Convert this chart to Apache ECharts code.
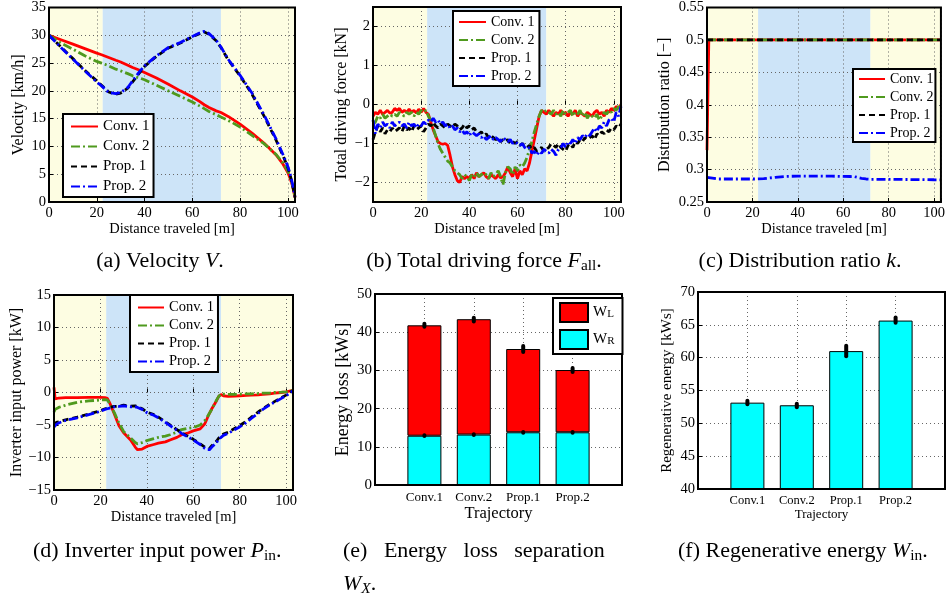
<!DOCTYPE html>
<html>
<head>
<meta charset="utf-8">
<script src="https://cdn.jsdelivr.net/npm/echarts@6/dist/echarts.min.js"></script>
<style>
  html, body { margin: 0; padding: 0; background: #fff; }
  #main { width: 948px; height: 599px; }
</style>
</head>
<body>
<div id="main"></div>
<script>
// ---- data ----
var seriesNames = ['Conv. 1', 'Conv. 2', 'Prop. 1', 'Prop. 2'];
var bandEdges = [0, 22.5, 72, 103];

// (a) velocity [km/h]
var distA = [0,5,10,15,20,22,25,28,30,33,35,38,40,45,50,55,60,63,65,67,70,72,75,80,85,90,95,98,100,101,102,103];
var conv1A = [30,29.2,28.4,27.6,26.8,26.5,26.0,25.5,25.2,24.6,24.2,23.7,23.3,22.3,21.2,20.0,18.9,18.1,17.5,17.0,16.4,16.1,15.4,14.0,12.4,10.6,8.5,6.8,5.3,4.2,2.8,0.8];
var conv2A = [30,28.6,27.5,26.3,25.3,25.0,24.5,23.9,23.6,23.1,22.7,22.3,22.0,21.0,20.0,19.0,18.0,17.3,16.8,16.3,15.7,15.3,14.7,13.5,12.0,10.5,8.6,7.0,5.6,4.5,3.0,1.0];
var prop1A = [30,27.9,25.8,23.7,21.8,21.0,19.8,19.4,19.6,20.5,21.6,23.3,24.4,26.2,27.7,28.6,29.7,30.3,30.6,30.2,29.0,27.8,25.6,22.7,19.4,15.5,11.2,8.3,6.2,4.8,3.0,0.8];
var prop2A = [30,27.8,25.7,23.6,21.6,20.9,19.7,19.5,19.7,20.6,21.8,23.5,24.5,26.3,27.8,28.7,29.8,30.4,30.7,30.3,29.1,27.9,25.7,22.8,19.6,15.7,11.4,8.5,6.4,5.0,3.2,1.0];

// (b) total driving force [kN]
var distB = [0,1,2,3,4,5,6,7,8,9,10,11,12,13,14,15,16,17,18,19,20,21,22,23,24,25,26,27,28,29,30,31,32,33,34,35,36,37,38,39,40,41,42,43,44,45,46,47,48,49,50,51,52,53,54,55,56,57,58,59,60,61,62,63,64,65,66,67,68,69,70,71,72,73,74,75,76,77,78,79,80,81,82,83,84,85,86,87,88,89,90,91,92,93,94,95,96,97,98,99,100,101,102,103];
var conv1B = [-0.3,-0.2,-0.25,-0.15,-0.25,-0.2,-0.15,-0.22,-0.2,-0.1,
  -0.15,-0.1,-0.2,-0.15,-0.2,-0.12,-0.2,-0.15,-0.22,-0.12,
  -0.2,-0.1,-0.2,-0.25,-0.45,-0.65,-0.8,-0.95,-1.0,-1.02,
  -1.0,-1.05,-1.3,-1.6,-1.8,-1.95,-2.0,-1.85,-1.9,-1.85,
  -1.9,-1.8,-1.9,-1.75,-1.85,-1.8,-1.75,-1.85,-1.9,-1.8,
  -1.85,-1.9,-1.8,-1.88,-1.85,-1.75,-1.6,-1.75,-1.85,-1.65,
  -1.9,-1.7,-1.8,-1.65,-1.7,-1.5,-1.2,-0.9,-0.6,-0.3,
  -0.15,-0.2,-0.25,-0.15,-0.22,-0.3,-0.2,-0.25,-0.15,-0.25,
  -0.2,-0.3,-0.2,-0.25,-0.15,-0.3,-0.2,-0.25,-0.3,-0.2,
  -0.25,-0.3,-0.2,-0.15,-0.25,-0.2,-0.3,-0.15,-0.2,-0.1,
  -0.15,-0.05,-0.1,0.0];
var conv2B = [-0.5,-0.45,-0.3,-0.35,-0.25,-0.35,-0.3,-0.25,-0.3,-0.25,
  -0.3,-0.2,-0.25,-0.3,-0.2,-0.25,-0.2,-0.3,-0.2,-0.25,
  -0.15,-0.2,-0.15,-0.3,-0.4,-0.6,-0.8,-1.0,-1.15,-1.25,
  -1.35,-1.45,-1.5,-1.6,-1.7,-1.75,-1.8,-1.9,-1.8,-1.85,
  -1.95,-1.8,-1.85,-1.75,-1.85,-1.8,-1.75,-1.8,-1.9,-1.75,
  -1.85,-1.8,-1.7,-1.85,-2.05,-1.75,-1.6,-1.65,-1.8,-1.6,
  -1.7,-1.55,-1.6,-1.5,-1.35,-1.15,-0.95,-0.7,-0.5,-0.3,
  -0.15,-0.2,-0.15,-0.2,-0.25,-0.15,-0.25,-0.2,-0.3,-0.15,
  -0.25,-0.2,-0.15,-0.3,-0.2,-0.25,-0.15,-0.3,-0.2,-0.35,
  -0.25,-0.3,-0.35,-0.25,-0.4,-0.3,-0.2,-0.25,-0.15,-0.2,
  -0.1,-0.15,-0.05,-0.1];
var prop1B = [-0.9,-0.7,-0.55,-0.7,-0.6,-0.75,-0.65,-0.7,-0.6,-0.7,
  -0.65,-0.6,-0.7,-0.55,-0.65,-0.6,-0.7,-0.55,-0.65,-0.6,
  -0.55,-0.7,-0.6,-0.5,-0.55,-0.45,-0.55,-0.6,-0.5,-0.55,
  -0.6,-0.5,-0.55,-0.6,-0.5,-0.55,-0.65,-0.6,-0.5,-0.6,
  -0.55,-0.65,-0.6,-0.7,-0.75,-0.7,-0.8,-0.75,-0.85,-0.8,
  -0.85,-0.9,-0.85,-0.95,-0.9,-0.95,-0.9,-1.0,-0.95,-1.0,
  -0.95,-1.05,-1.0,-1.05,-1.1,-1.05,-1.15,-1.1,-1.2,-1.15,
  -1.1,-1.2,-1.15,-1.1,-1.0,-1.05,-1.1,-1.0,-1.1,-1.15,
  -1.2,-1.05,-1.0,-1.1,-0.95,-1.0,-0.9,-0.95,-0.85,-0.9,
  -0.85,-0.8,-0.9,-0.75,-0.8,-0.7,-0.75,-0.65,-0.7,-0.6,
  -0.65,-0.55,-0.6,-0.5];
var prop2B = [-0.4,-0.75,-0.5,-0.6,-0.45,-0.55,-0.5,-0.6,-0.45,-0.55,
  -0.5,-0.45,-0.55,-0.5,-0.6,-0.45,-0.55,-0.5,-0.6,-0.5,
  -0.55,-0.45,-0.5,-0.4,-0.45,-0.35,-0.45,-0.4,-0.5,-0.45,
  -0.55,-0.5,-0.6,-0.55,-0.65,-0.6,-0.7,-0.65,-0.75,-0.7,
  -0.8,-0.7,-0.75,-0.8,-0.75,-0.85,-0.8,-0.9,-0.85,-0.8,
  -0.9,-0.85,-0.9,-0.95,-0.85,-0.9,-0.95,-0.9,-1.0,-0.95,
  -1.0,-1.05,-1.0,-1.1,-1.15,-1.1,-1.25,-1.2,-1.3,-1.2,
  -1.25,-1.15,-1.2,-1.25,-1.15,-1.2,-1.3,-1.15,-1.1,-1.0,
  -1.1,-0.95,-1.0,-0.9,-1.0,-0.85,-0.9,-0.8,-0.85,-0.75,
  -0.8,-0.7,-0.6,-0.7,-0.55,-0.6,-0.45,-0.55,-0.4,-0.35,
  -0.45,-0.2,-0.3,-0.05];

// (c) distribution ratio
var distC = [0,0.8,5,10,15,20,22,25,30,35,40,45,50,55,60,63,65,68,70,72,75,80,85,90,95,100,103];
var conv1C = [0.33,0.5,0.5,0.5,0.5,0.5,0.5,0.5,0.5,0.5,0.5,0.5,0.5,0.5,0.5,0.5,0.5,0.5,0.5,0.5,0.5,0.5,0.5,0.5,0.5,0.5,0.5];
var conv2C = [0.5,0.5,0.5,0.5,0.5,0.5,0.5,0.5,0.5,0.5,0.5,0.5,0.5,0.5,0.5,0.5,0.5,0.5,0.5,0.5,0.5,0.5,0.5,0.5,0.5,0.5,0.5];
var prop1C = [0.5,0.5,0.5,0.5,0.5,0.5,0.5,0.5,0.5,0.5,0.5,0.5,0.5,0.5,0.5,0.5,0.5,0.5,0.5,0.5,0.5,0.5,0.5,0.5,0.5,0.5,0.5];
var prop2C = [0.288,0.286,0.2855,0.2855,0.2855,0.2855,0.2855,0.286,0.288,0.2895,0.29,0.29,0.29,0.2898,0.2895,0.2893,0.289,0.2865,0.2855,0.285,0.285,0.285,0.2848,0.2846,0.2845,0.2843,0.2842];

// (d) inverter input power [kW]
var distD = [0,0.5,1,2,5,10,15,20,22,23,24,26,28,30,33,35,36,38,40,43,45,48,50,53,55,58,60,63,65,66,67,68,70,71,72,73,75,78,80,83,85,88,90,93,95,98,100,102,103];
var conv1D = [0.8,-1.0,-1.0,-0.85,-0.8,-0.8,-0.75,-0.75,-0.8,-0.9,-1.6,-3.3,-5.1,-6.2,-7.3,-8.4,-8.8,-8.7,-8.3,-8.0,-7.8,-7.6,-7.3,-6.9,-6.5,-6.2,-5.9,-5.6,-4.8,-4.0,-3.2,-2.5,-1.3,-0.6,-0.3,-0.5,-0.6,-0.55,-0.5,-0.45,-0.4,-0.35,-0.3,-0.2,-0.1,0.0,0.1,0.25,0.3];
var conv2D = [-3.0,-2.6,-2.5,-2.3,-1.95,-1.5,-1.3,-1.15,-1.1,-1.15,-1.7,-3.1,-4.7,-6.0,-7.0,-7.7,-7.9,-7.7,-7.4,-7.1,-6.9,-6.7,-6.5,-6.1,-5.7,-5.5,-5.4,-5.0,-4.3,-3.8,-3.2,-2.6,-1.2,-0.6,-0.2,-0.25,-0.3,-0.3,-0.25,-0.2,-0.2,-0.15,-0.1,-0.1,0.0,0.05,0.1,0.2,0.3];
var prop1D = [-5.0,-4.8,-4.6,-4.5,-4.2,-3.8,-3.3,-2.8,-2.5,-2.4,-2.3,-2.15,-2.1,-1.95,-2.1,-2.05,-2.2,-2.5,-3.0,-3.4,-3.8,-4.5,-5.0,-5.7,-6.2,-6.8,-7.2,-7.9,-8.4,-8.6,-8.6,-8.2,-7.5,-7.0,-6.7,-6.4,-6.1,-5.5,-5.1,-4.4,-3.8,-3.0,-2.5,-1.8,-1.4,-0.8,-0.4,0.1,0.3];
var prop2D = [-5.3,-5.0,-4.9,-4.7,-4.3,-3.9,-3.4,-2.9,-2.6,-2.5,-2.4,-2.2,-2.15,-2.05,-2.2,-2.2,-2.3,-2.6,-3.1,-3.5,-3.9,-4.6,-5.1,-5.8,-6.3,-6.9,-7.3,-8.0,-8.6,-8.8,-8.8,-8.4,-7.7,-7.2,-6.9,-6.6,-6.3,-5.7,-5.3,-4.6,-4.0,-3.2,-2.6,-1.9,-1.5,-0.9,-0.5,0.0,0.25];

// (e) energy loss separation [kWs]
var trajectories = ['Conv.1', 'Conv.2', 'Prop.1', 'Prop.2'];
var barSlots = [''].concat(trajectories, ['']);
var barPos = [1, 2, 3, 4];
var wR = [12.9, 13.2, 13.8, 13.8];
var wL = [28.9, 30.2, 21.8, 16.3];
var wTotalLo = [41.4, 42.8, 34.8, 29.6];
var wTotalHi = [42.2, 43.8, 36.4, 30.6];
var wRLo = [12.8, 13.1, 13.7, 13.7];
var wRHi = [13.0, 13.3, 13.9, 13.9];

// (f) regenerative energy [kWs]
var wIn = [53.15, 52.75, 61.0, 65.65];
var wInLo = [52.9, 52.45, 60.2, 65.3];
var wInHi = [53.45, 53.0, 61.8, 66.1];

// ---- styles ----
var SERIF = '"Liberation Serif", "Times New Roman", serif';
var lineLook = {
    'Conv. 1': {color: '#ff0000', type: 'solid'},
    'Conv. 2': {color: '#4f9a1e', type: [9, 3, 2, 3]},
    'Prop. 1': {color: '#000000', type: [6, 4]},
    'Prop. 2': {color: '#0000ff', type: [9, 3, 2, 3]}
};
var bandColors = ['#fdfde2', '#cde4f8', '#fdfde2'];

var myChart = echarts.init(document.getElementById('main'), null, {renderer: 'canvas'});

function minus(v) {
    return v < 0 ? '\u2212' + (-v) : String(v);
}

function lineSeries(g, xs, ys, name) {
    var look = lineLook[name];
    return {
        type: 'line', name: name, xAxisIndex: g, yAxisIndex: g,
        data: xs.map(function (x, i) { return [x, ys[i]]; }),
        symbol: 'none', z: 2, silent: true,
        lineStyle: {color: look.color, width: 2.8, type: look.type},
        itemStyle: {color: look.color}
    };
}

function bandSeries(g) {
    var areas = [];
    for (var i = 0; i < bandEdges.length - 1; i++) {
        areas.push([{xAxis: bandEdges[i], itemStyle: {color: bandColors[i]}}, {xAxis: bandEdges[i + 1]}]);
    }
    return {type: 'line', xAxisIndex: g, yAxisIndex: g, data: [], silent: true,
        markArea: {silent: true, z: 0.5, label: {show: false}, data: areas}};
}

function errSeries(g, lo, hi) {
    return {
        type: 'custom', xAxisIndex: g, yAxisIndex: g, z: 3, silent: true,
        data: barPos.map(function (x, i) { return [x, lo[i], hi[i]]; }),
        encode: {x: 0, y: [1, 2]},
        renderItem: function (params, api) {
            var a = api.coord([api.value(0), api.value(1)]);
            var b = api.coord([api.value(0), api.value(2)]);
            return {type: 'line', shape: {x1: a[0], y1: a[1], x2: b[0], y2: b[1]},
                style: {stroke: '#000', lineWidth: 4, lineCap: 'round'}};
        }
    };
}

var grid0 = {show: true, z: 3, borderColor: '#000', borderWidth: 2, backgroundColor: 'transparent'};
function mkGrid(l, t, w, h) {
    return Object.assign({left: l, top: t, width: w, height: h}, grid0);
}

var dotted = {show: true, lineStyle: {color: '#666', type: [1, 3], width: 1}};

function axisBase(g, fs, name, gap, nfs) {
    return {
        gridIndex: g, type: 'value', z: 1,
        axisLine: {show: false},
        axisTick: {show: true, inside: true, length: 4, lineStyle: {color: '#000'}},
        splitLine: dotted,
        name: name, nameLocation: 'middle', nameGap: gap,
        nameTextStyle: {fontFamily: SERIF, fontSize: nfs, color: '#000'},
        axisLabel: {color: '#000', fontFamily: SERIF, fontSize: fs}
    };
}

function distAxis(g) {
    var ax = axisBase(g, 14.5, 'Distance traveled [m]', 20, 14.5);
    ax.min = 0; ax.max = 103; ax.interval = 20;
    ax.axisLabel.margin = 4;
    ax.axisLabel.formatter = function (v) { return v % 20 === 0 ? String(v) : ''; };
    return ax;
}

function catAxis(g, fs, nfs, gap, margin) {
    var ax = axisBase(g, fs, 'Trajectory', gap, nfs);
    ax.type = 'category';
    ax.data = barSlots;
    ax.boundaryGap = false;
    ax.axisLabel.margin = margin;
    ax.axisLabel.interval = 0;
    ax.axisTick.interval = 0;
    ax.splitLine = {show: true, interval: 0, lineStyle: dotted.lineStyle};
    return ax;
}

var yA = axisBase(0, 14.5, 'Velocity [km/h]', 22, 16);
yA.min = 0; yA.max = 35; yA.interval = 5; yA.axisLabel.margin = 3;
var yB = axisBase(1, 14.5, 'Total driving force [kN]', 23, 16);
yB.min = -2.5; yB.max = 2.5; yB.splitNumber = 5; yB.axisLabel.margin = 3;
yB.axisLabel.formatter = function (v) { return Number.isInteger(v) ? minus(v) : ''; };
var yC = axisBase(2, 14.5, 'Distribution ratio [\u2212]', 34, 16);
yC.min = 0.25; yC.max = 0.55; yC.interval = 0.05; yC.axisLabel.margin = 3;
yC.axisLabel.formatter = function (v) { return String(parseFloat(v.toFixed(2))); };
var yD = axisBase(3, 14.5, 'Inverter input power [kW]', 29, 16);
yD.min = -15; yD.max = 15; yD.interval = 5; yD.axisLabel.margin = 3;
yD.axisLabel.formatter = minus;
var yE = axisBase(4, 15, 'Energy loss [kWs]', 23, 18);
yE.min = 0; yE.max = 50; yE.interval = 10; yE.axisLabel.margin = 3;
var yF = axisBase(5, 14.5, 'Regenerative energy [kWs]', 23, 15);
yF.min = 40; yF.max = 70; yF.interval = 5; yF.axisLabel.margin = 3;

function legendBox(extra) {
    return Object.assign({
        orient: 'vertical', z: 5, selectedMode: false,
        backgroundColor: '#fff', borderColor: '#000', borderWidth: 2, borderRadius: 0,
        itemWidth: 27, itemHeight: 12, itemGap: 4,
        itemStyle: {opacity: 0},
        data: seriesNames,
        textStyle: {fontFamily: SERIF, fontSize: 14, color: '#000'}
    }, extra);
}

var series = [];
var gridsData = [
    [distA, conv1A, conv2A, prop1A, prop2A],
    [distB, conv1B, conv2B, prop1B, prop2B],
    [distC, conv1C, conv2C, prop1C, prop2C],
    [distD, conv1D, conv2D, prop1D, prop2D]
];
gridsData.forEach(function (d, g) {
    series.push(bandSeries(g));
    seriesNames.forEach(function (n, k) {
        series.push(lineSeries(g, d[0], d[k + 1], n));
    });
});

// (e) stacked bars
series.push({type: 'bar', name: 'WR', stack: 'e', xAxisIndex: 4, yAxisIndex: 4, barWidth: 34, z: 2,
    data: barPos.map(function (x, i) { return [x, wR[i]]; }),
    itemStyle: {color: '#00ffff', borderColor: '#000', borderWidth: 1}});
series.push({type: 'bar', name: 'WL', stack: 'e', xAxisIndex: 4, yAxisIndex: 4, barWidth: 34, z: 2,
    data: barPos.map(function (x, i) { return [x, wL[i]]; }),
    itemStyle: {color: '#ff0000', borderColor: '#000', borderWidth: 1}});
series.push(errSeries(4, wTotalLo, wTotalHi));
series.push(errSeries(4, wRLo, wRHi));

// (f) bars
series.push({type: 'bar', name: 'Win', xAxisIndex: 5, yAxisIndex: 5, barWidth: 34, z: 2,
    data: barPos.map(function (x, i) { return [x, wIn[i]]; }),
    itemStyle: {color: '#00ffff', borderColor: '#000', borderWidth: 1}});
series.push(errSeries(5, wInLo, wInHi));

var subRich = {
    i: {fontFamily: SERIF, fontStyle: 'italic', fontSize: 20},
    s: {fontFamily: SERIF, fontSize: 14, verticalAlign: 'bottom', lineHeight: 14},
    si: {fontFamily: SERIF, fontStyle: 'italic', fontSize: 14, verticalAlign: 'bottom', lineHeight: 14}
};
function caption(x, y, text, align) {
    return {type: 'text', x: x, y: y, z: 10, silent: true, scaleX: 1.1,
        style: {text: text, fontFamily: SERIF, fontSize: 20, fill: '#000', align: align || 'left',
            verticalAlign: 'middle', lineHeight: 23, rich: subRich}};
}

var option = {
    animation: false,
    grid: [
        mkGrid(49, 7, 246, 195),
        mkGrid(373, 7, 248, 195),
        mkGrid(707, 7, 237, 195),
        mkGrid(54, 295, 239, 195),
        mkGrid(375, 294, 247, 191),
        mkGrid(698, 292, 247, 197)
    ],
    xAxis: [distAxis(0), distAxis(1), distAxis(2), distAxis(3),
        catAxis(4, 13, 16.5, 20, 6), catAxis(5, 12.5, 13, 18, 5)],
    yAxis: [yA, yB, yC, yD, yE, yF],
    legend: [
        legendBox({left: 63, top: 114, padding: [5, 4, 3, 7], itemGap: 5, textStyle: {fontFamily: SERIF, fontSize: 15, color: '#000'}}),
        legendBox({left: 453, top: 11, padding: [4, 5, 3, 5]}),
        legendBox({left: 853, top: 69, padding: [3, 2, 2, 5], itemWidth: 26}),
        legendBox({left: 130, top: 295, padding: [5, 4, 3, 7], itemWidth: 26, itemGap: 3, textStyle: {fontFamily: SERIF, fontSize: 14.5, color: '#000'}}),
        {
            orient: 'vertical', z: 5, selectedMode: false, left: 553, top: 298,
            backgroundColor: '#fff', borderColor: '#000', borderWidth: 2, borderRadius: 0,
            padding: [4, 8, 4, 6], itemWidth: 28, itemHeight: 19, itemGap: 6, icon: 'rect',
            data: ['WL', 'WR'],
            formatter: function (n) { return '{w|W}{s|' + n.slice(1) + '}'; },
            textStyle: {color: '#000', rich: {
                w: {fontFamily: SERIF, fontSize: 15},
                s: {fontFamily: SERIF, fontSize: 11, verticalAlign: 'bottom', lineHeight: 11}
            }}
        }
    ],
    series: series,
    graphic: {elements: [
        caption(160, 262, '(a) Velocity {i|V}.', 'center'),
        caption(484, 262, '(b) Total driving force {i|F}{s|all}.', 'center'),
        caption(800, 262, '(c) Distribution ratio {i|k}.', 'center'),
        caption(33, 552, '(d) Inverter input power {i|P}{s|in}.'),
        caption(343, 552, '(e)   Energy   loss   separation'),
        caption(343, 585, '{i|W}{si|X}.'),
        caption(678, 552, '(f) Regenerative energy {i|W}{s|in}.')
    ]}
};

myChart.setOption(option);
</script>
</body>
</html>
